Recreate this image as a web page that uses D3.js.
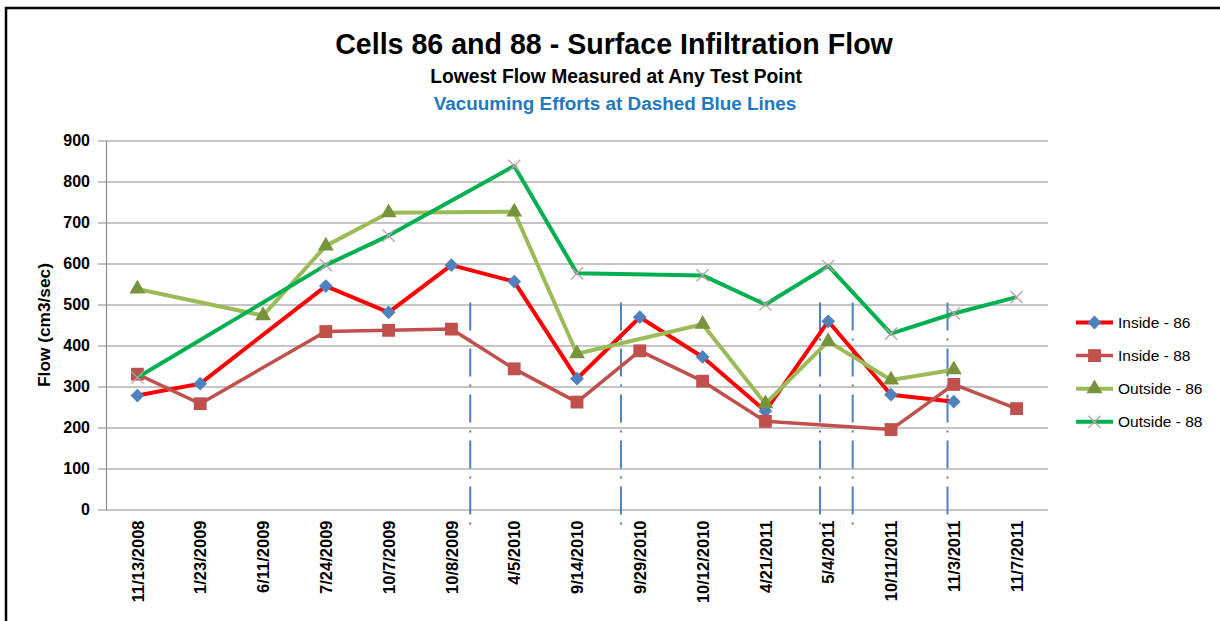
<!DOCTYPE html>
<html>
<head>
<meta charset="utf-8">
<script src="https://cdn.jsdelivr.net/npm/d3@7"></script>
<style>
  body { margin: 0; background: #fff; }
  svg { display: block; font-family: "Liberation Sans", Arial, sans-serif; }
</style>
</head>
<body>
<div id="chart"></div>
<script>
/**
 * DATA
 * */
const categories = ["11/13/2008", "1/23/2009", "6/11/2009", "7/24/2009", "10/7/2009",
  "10/8/2009", "4/5/2010", "9/14/2010", "9/29/2010", "10/12/2010",
  "4/21/2011", "5/4/2011", "10/11/2011", "11/3/2011", "11/7/2011"];

const inside86 = [278, 307, null, 545, 481, 596, 556, 319, 469, 372, 240, 459, 280, 263, null];
const inside88 = [330, 258, null, 434, 437, 440, 343, 262, 387, 313, 215, null, 195, 305, 246];
const outside86 = [538, null, 473, 643, 724, null, 726, 380, null, 452, 258, 410, 316, 341, null];
const outside88 = [322, null, null, 596, 668, null, 838, 576, null, 571, 500, 594, 429, 478, 518];

// vacuuming dates, as positions between the category slots
const vacuumPositions = [5.3, 7.7, 10.87, 11.39, 12.9];

const yTicks = [0, 100, 200, 300, 400, 500, 600, 700, 800, 900];

/**
 * CONSTANTS
 * */
const width = 1220, height = 621;
const plot = { left: 106, right: 1048, top: 140.5, bottom: 509.5 };

const xSymbol = {
  draw(context, size) {
    const r = Math.sqrt(size) / 2;
    context.moveTo(-r, -r); context.lineTo(r, r);
    context.moveTo(-r, r); context.lineTo(r, -r);
  }
};

const series = [
  { name: "Inside - 86", values: inside86, line: "#ff0000", width: 4,
    symbol: d3.symbolSquare, size: 95, rotate: 45, fill: "#4f81bd", stroke: "none" },
  { name: "Inside - 88", values: inside88, line: "#c0504d", width: 3.5,
    symbol: d3.symbolSquare, size: 165, rotate: 0, fill: "#c0504d", stroke: "none" },
  { name: "Outside - 86", values: outside86, line: "#9bbb59", width: 4,
    symbol: d3.symbolTriangle, size: 110, rotate: 0, fill: "#77933c", stroke: "none" },
  { name: "Outside - 88", values: outside88, line: "#00b050", width: 4,
    symbol: xSymbol, size: 150, rotate: 0, fill: "none", stroke: "#c0a0a8" }
];

const svg = d3.select("#chart")
  .append("svg")
  .attr("width", width)
  .attr("height", height);

// frame
svg.append("path")
  .attr("d", `M6,${height}V8H${width}`)
  .attr("fill", "none")
  .attr("stroke", "#000")
  .attr("stroke-width", 2.5);

const x = d3.scaleLinear()
  .domain([-0.5, categories.length - 0.5])
  .range([plot.left, plot.right]);
const y = d3.scaleLinear()
  .domain([0, 900])
  .range([plot.bottom, plot.top]);

function fitWidth(text, w) {
  const len = text.node().getComputedTextLength();
  const fs = parseFloat(text.attr("font-size"));
  text.attr("font-size", fs * w / len);
}

// titles
const t1 = svg.append("text")
  .attr("x", 614).attr("y", 54)
  .attr("text-anchor", "middle")
  .attr("font-weight", "bold")
  .attr("font-size", 24)
  .text("Cells 86 and 88 - Surface Infiltration Flow");
fitWidth(t1, 558);
const t2 = svg.append("text")
  .attr("x", 616).attr("y", 83)
  .attr("text-anchor", "middle")
  .attr("font-weight", "bold")
  .attr("font-size", 15)
  .text("Lowest Flow Measured at Any Test Point");
fitWidth(t2, 372);
const t3 = svg.append("text")
  .attr("x", 615).attr("y", 110)
  .attr("text-anchor", "middle")
  .attr("font-weight", "bold")
  .attr("font-size", 15)
  .attr("fill", "#1f78c1")
  .text("Vacuuming Efforts at Dashed Blue Lines");
fitWidth(t3, 363);

// y axis with gridlines
svg.append("g")
  .attr("transform", `translate(${plot.left},0)`)
  .call(d3.axisLeft(y).tickValues(yTicks).tickSizeInner(-(plot.right - plot.left)).tickSizeOuter(0).tickPadding(16))
  .call(g => g.select(".domain").attr("stroke", "#8c8c8c").attr("stroke-width", 1.2))
  .call(g => g.selectAll(".tick line")
    .attr("x1", -8)
    .attr("stroke", "#8c8c8c")
    .attr("stroke-width", 1.2))
  .call(g => g.selectAll(".tick text")
    .attr("font-size", 16)
    .attr("font-weight", "bold")
    .attr("fill", "#000"));

const yTitle = svg.append("text")
  .attr("transform", "translate(50,325) rotate(-90)")
  .attr("text-anchor", "middle")
  .attr("font-weight", "bold")
  .attr("font-size", 15)
  .text("Flow (cm3/sec)");
fitWidth(yTitle, 124);

// x axis labels
svg.append("g")
  .attr("transform", `translate(0,${plot.bottom})`)
  .call(d3.axisBottom(x).tickValues(d3.range(categories.length)).tickFormat(i => categories[i]).tickSize(0))
  .call(g => g.select(".domain").remove())
  .call(g => g.selectAll(".tick text")
    .attr("transform", "rotate(-90)")
    .attr("text-anchor", "end")
    .attr("x", -11)
    .attr("y", 0)
    .attr("dy", "0.35em")
    .attr("font-size", 16.5)
    .attr("font-weight", "bold")
    .attr("fill", "#000"));

// vacuuming lines
svg.append("g")
  .selectAll("line")
  .data(vacuumPositions)
  .join("line")
    .attr("x1", d => x(d))
    .attr("x2", d => x(d))
    .attr("y1", y(505))
    .attr("y2", plot.bottom + 21)
    .attr("stroke", "#4f81bd")
    .attr("stroke-width", 2)
    .attr("stroke-dasharray", "28,8,2,8");

// series
const line = d3.line()
  .defined(d => d.v != null)
  .x(d => x(d.i))
  .y(d => y(d.v));

series.forEach(s => {
  const pts = s.values.map((v, i) => ({ i, v })).filter(d => d.v != null);
  const g = svg.append("g");
  g.append("path")
    .datum(pts)
    .attr("d", line)
    .attr("fill", "none")
    .attr("stroke", s.line)
    .attr("stroke-width", s.width)
    .attr("stroke-linejoin", "round");
  g.selectAll("path.marker")
    .data(pts)
    .join("path")
      .attr("class", "marker")
      .attr("transform", d => `translate(${x(d.i)},${y(d.v)}) rotate(${s.rotate})`)
      .attr("d", d3.symbol(s.symbol, s.size))
      .attr("fill", s.fill)
      .attr("stroke", s.stroke)
      .attr("stroke-width", 1.3);
});

// legend
const legend = svg.append("g")
  .selectAll("g")
  .data(series)
  .join("g")
    .attr("transform", (d, i) => `translate(1076,${322.5 + i * 33.1})`);
legend.append("line")
  .attr("x1", 0).attr("x2", 37)
  .attr("stroke", d => d.line)
  .attr("stroke-width", d => d.width);
legend.append("path")
  .attr("transform", d => `translate(18.5,0) rotate(${d.rotate})`)
  .attr("d", d => d3.symbol(d.symbol, d.size)())
  .attr("fill", d => d.fill)
  .attr("stroke", d => d.stroke)
  .attr("stroke-width", 1.3);
legend.append("text")
  .attr("x", 42)
  .attr("dy", "0.35em")
  .attr("font-size", 15.5)
  .text(d => d.name);
</script>
</body>
</html>
